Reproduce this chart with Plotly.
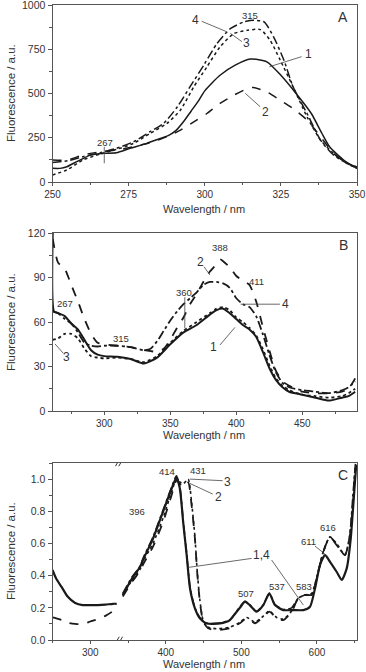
import plotly.graph_objects as go

W, H = 366, 672

# ---------------- Panel A data ----------------
a1_x = [250, 252.5, 254.7, 258, 262.4, 266.8, 271, 275.5, 281, 285.4, 288, 290.5, 293, 295.5, 298, 300, 305, 310, 315, 320.4, 325, 330, 335, 338.5, 341, 345.6, 350]
a1_y = [77, 77, 86, 115, 152, 162, 165, 190, 218, 246, 262, 290, 340, 400, 460, 515, 603, 660, 695, 679, 603, 500, 387, 274, 199, 124, 77]
a2_x = [250, 254.7, 260, 265.7, 271, 276.6, 282, 287.6, 292, 296.4, 300.7, 305, 309.5, 314, 316, 320.4, 324.8, 329, 333.6, 338, 342.3, 346.7, 350]
a2_y = [124, 124, 152, 171, 180, 199, 222, 256, 293, 340, 387, 444, 490, 528, 534, 509, 462, 415, 350, 256, 162, 105, 86]
a3_x = [250, 254.7, 260, 265.7, 271, 276.6, 282, 287.6, 292, 296.4, 300.7, 305, 309.5, 314, 318.3, 321.5, 324.8, 329, 333.6, 338, 342.3, 346.7, 350]
a3_y = [40, 68, 124, 158, 184, 218, 274, 331, 406, 538, 650, 763, 838, 857, 861, 800, 688, 538, 368, 237, 162, 105, 77]
a4_x = [250, 255, 260, 265.7, 271, 276.6, 282, 286.5, 291, 295.5, 300, 304, 308.4, 312.8, 316, 319.5, 322.6, 326, 329, 333.6, 338, 342.3, 346.7, 350]
a4_y = [110, 120, 143, 165, 190, 227, 284, 331, 425, 547, 669, 782, 866, 904, 914, 904, 820, 688, 538, 387, 237, 152, 105, 77]

# ---------------- Panel B data ----------------
b1_x = [261, 262, 265, 270, 275, 280, 285, 290, 295, 300, 310, 320, 330, 340, 350, 360, 370, 380, 385, 390, 395, 400, 405, 410, 415, 420, 425, 430, 435, 440, 450, 460, 470, 480, 485, 490]
b1_y = [120, 67, 66, 64, 59, 55, 48, 41, 38, 37, 36.6, 35, 32, 36, 45, 53, 58, 65, 68, 69, 66, 62, 58, 55, 50, 40, 29, 21, 16, 13, 11, 9, 7, 9, 10, 13]
b2_x = [261, 265, 270, 275, 280, 285, 290, 295, 300, 310, 320, 330, 340, 345, 350, 355, 360, 365, 370, 375, 380, 385, 388, 390, 395, 400, 405, 410, 415, 420, 425, 430, 435, 440, 450, 460, 470, 480, 485, 490]
b2_y = [116, 100, 96, 85, 74, 62, 52, 46, 45, 44, 43, 41, 40, 42, 48, 56, 63, 72, 79, 87, 94, 99, 102, 101, 97, 91, 88, 85, 74, 57, 41, 27, 20, 17, 13, 12, 12, 13, 15, 22]
b3_x = [261, 265, 270, 275, 280, 285, 290, 295, 300, 310, 320, 330, 340, 350, 360, 370, 380, 385, 390, 395, 400, 405, 410, 415, 420, 425, 430, 435, 440, 450, 460, 470, 480, 485, 490]
b3_y = [48, 49, 52, 52, 49, 42, 37, 36, 35.5, 36, 35, 33, 37, 46, 54, 60, 66, 69, 70, 68, 63, 60, 56, 51, 42, 31, 22, 17, 14, 11, 10, 9, 10, 12, 15]
b4_x = [261, 265, 270, 275, 280, 285, 290, 295, 300, 310, 320, 330, 335, 340, 345, 350, 355, 360, 365, 370, 375, 380, 385, 390, 395, 400, 405, 410, 415, 420, 425, 430, 435, 440, 450, 460, 470, 480, 485, 490]
b4_y = [67, 66, 62, 59, 53, 46, 44, 43.5, 44, 44, 43, 41, 42, 47, 54, 61, 67, 72, 76, 80, 85, 87, 87, 86, 83, 76, 72, 70, 64, 52, 38, 26, 19, 16, 14, 13, 12, 14, 16, 20]

# ---------------- Panel C data (broken axis: two segments) ----------------
c_left_x = [250, 255, 262, 270, 280, 290, 300, 310, 320, 330, 335]
c1_left_y = [0.435, 0.38, 0.33, 0.27, 0.23, 0.217, 0.217, 0.217, 0.22, 0.225, 0.225]
c2_left_y = [0.14, 0.135, 0.125, 0.107, 0.10, 0.098, 0.115, 0.13, 0.15, 0.18, 0.21]

c1_x = [343, 355, 366, 370, 383, 396.5, 407.6, 414, 418.6, 423, 427.5, 432, 438.5, 445, 454, 471.6, 484.8, 493.7, 498, 504.7, 511, 520, 529, 537, 544.4, 555.5, 568.7, 582, 590.8, 597.4, 604, 610.7, 617.3, 626, 632.8, 639.4, 644.7, 649, 652]
c1_y = [0.28, 0.38, 0.455, 0.50, 0.63, 0.80, 0.94, 1.01, 0.94, 0.73, 0.53, 0.32, 0.197, 0.135, 0.103, 0.103, 0.124, 0.176, 0.2, 0.238, 0.217, 0.176, 0.217, 0.29, 0.217, 0.186, 0.186, 0.186, 0.207, 0.32, 0.466, 0.528, 0.486, 0.424, 0.373, 0.445, 0.63, 0.9, 1.09]
c2_x = [343, 355, 366, 370, 383, 396.5, 407.6, 414, 419, 423, 429.6, 434, 438.5, 441.5, 445, 449.5, 456, 467, 484.8, 498, 507, 518, 527, 537, 546.7, 555.5, 566.5, 575.3, 584, 593, 599.7, 608.4, 617.3, 626, 637, 643, 647.6, 650.6]
c2_y = [0.27, 0.36, 0.43, 0.47, 0.58, 0.735, 0.90, 0.99, 0.97, 0.95, 0.98, 0.84, 0.63, 0.42, 0.24, 0.114, 0.073, 0.062, 0.073, 0.104, 0.135, 0.104, 0.135, 0.176, 0.135, 0.124, 0.176, 0.26, 0.28, 0.28, 0.383, 0.548, 0.642, 0.59, 0.528, 0.63, 0.84, 1.07]
c3_x = [343, 355, 366, 370, 383, 396.5, 407.6, 414, 419, 423, 429.6, 434, 438.5, 441.5, 445, 449.5, 456, 467, 484.8, 498, 507, 518, 527, 537, 546.7, 555.5, 566.5, 575.3, 584, 593, 599.7, 608.4, 617.3, 626, 637, 643, 647.6, 650.6]
c3_y = [0.28, 0.37, 0.44, 0.49, 0.60, 0.76, 0.92, 1.0, 0.98, 0.97, 1.0, 0.86, 0.64, 0.43, 0.25, 0.12, 0.08, 0.07, 0.08, 0.11, 0.14, 0.11, 0.14, 0.18, 0.14, 0.13, 0.18, 0.26, 0.28, 0.29, 0.39, 0.55, 0.64, 0.6, 0.53, 0.64, 0.86, 1.08]
c4_x = [343, 355, 366, 370, 383, 396.5, 407.6, 414, 418.6, 423, 427.5, 432, 438.5, 445, 454, 471.6, 484.8, 493.7, 504.7, 511, 520, 529, 537, 544.4, 555.5, 566.5, 575.3, 584, 593, 599.7, 608.4, 617.3, 626, 637, 643, 647.6, 651]
c4_y = [0.29, 0.39, 0.46, 0.51, 0.64, 0.81, 0.95, 1.02, 0.95, 0.74, 0.54, 0.33, 0.2, 0.14, 0.105, 0.105, 0.126, 0.178, 0.24, 0.22, 0.178, 0.22, 0.29, 0.22, 0.19, 0.2, 0.26, 0.28, 0.28, 0.383, 0.548, 0.642, 0.59, 0.528, 0.63, 0.9, 1.1]

INK = "#1a1a1a"
GRAY = "#555555"
FONT = "Liberation Sans, Arial, sans-serif"

fig = go.Figure()


def add(x, y, dash, xa, ya, width=1.5):
    fig.add_trace(go.Scatter(x=x, y=y, mode="lines", xaxis=xa, yaxis=ya,
                             line=dict(color=INK, width=width, dash=dash, shape="spline", smoothing=0.6),
                             showlegend=False, hoverinfo="skip"))


# Panel A
add(a1_x, a1_y, "solid", "x", "y")
add(a2_x, a2_y, "dash", "x", "y")
add(a3_x, a3_y, "dot", "x", "y")
add(a4_x, a4_y, "dashdot", "x", "y")
# Panel B
add(b1_x, b1_y, "solid", "x2", "y2", 2)
add(b2_x, b2_y, "dash", "x2", "y2", 1.8)
add(b3_x, b3_y, "dot", "x2", "y2", 1.8)
add(b4_x, b4_y, "dashdot", "x2", "y2", 1.8)
# Panel C
add(c_left_x, c1_left_y, "solid", "x3", "y3", 2.2)
add(c_left_x, c2_left_y, "dash", "x3", "y3", 1.8)
add(c1_x, c1_y, "solid", "x3", "y3", 2.2)
add(c4_x, c4_y, "dashdot", "x3", "y3", 1.6)
add(c3_x, c3_y, "dot", "x3", "y3", 1.6)
add(c2_x, c2_y, "dash", "x3", "y3", 1.8)


def py(p):
    return 1 - p / H


def px(p):
    return p / W


xdom = [px(52.5), px(357)]
doms = {"A": [py(182), py(5)], "B": [py(411), py(233)], "C": [py(640), py(463)]}

tickfont = dict(family=FONT, size=10, color="#333333")


def xaxis(rng, dtick, minor, anchor, tick0=None):
    d = dict(domain=xdom, range=rng, anchor=anchor, showgrid=False, zeroline=False,
             showline=True, linecolor=GRAY, linewidth=1, mirror=True,
             ticks="outside", ticklen=3, tickcolor=GRAY, dtick=dtick, tickfont=tickfont,
             ticklabeloverflow="allow",
             minor=dict(ticks="outside", ticklen=2, dtick=minor, tickcolor=GRAY, showgrid=False),
             automargin=False, fixedrange=True)
    if tick0 is not None:
        d["tick0"] = tick0
        d["minor"]["tick0"] = tick0
    return d


def yaxis(dom, rng, dtick, minor, anchor, fmt=None):
    d = dict(domain=dom, range=rng, anchor=anchor, showgrid=False, zeroline=False,
             showline=True, linecolor=GRAY, linewidth=1, mirror=True,
             ticks="outside", ticklen=4, tickcolor=GRAY, dtick=dtick, tick0=0,
             tickfont=dict(family=FONT, size=10.5, color="#333333"),
             ticklabeloverflow="allow",
             minor=dict(ticks="outside", ticklen=2.5, dtick=minor, tick0=0, tickcolor=GRAY, showgrid=False),
             automargin=False, fixedrange=True)
    if fmt:
        d["tickformat"] = fmt
    return d


fig.update_layout(
    width=W, height=H, margin=dict(l=0, r=0, t=0, b=0),
    paper_bgcolor="white", plot_bgcolor="white",
    font=dict(family=FONT, color="#333333"),
    xaxis=xaxis([250, 350], 25, 12.5, "y", 250),
    yaxis=yaxis(doms["A"], [0, 1000], 250, 125, "x"),
    xaxis2=xaxis([260.8, 491.4], 50, 25, "y2", 300),
    yaxis2=yaxis(doms["B"], [0, 120], 30, 15, "x2"),
    xaxis3=xaxis([250, 653], 100, 50, "y3", 300),
    yaxis3=yaxis(doms["C"], [0, 1.1], 0.2, 0.1, "x3", ".1f"),
)

ann = []


def label(text, x, y, xr, yr, size=10):
    ann.append(dict(text=text, x=x, y=y, xref=xr, yref=yr, showarrow=False,
                    font=dict(family=FONT, size=size, color="#333333"),
                    xanchor="center", yanchor="middle"))


shapes = []


def seg(x0, y0, x1, y1, xr, yr, w=0.8, color="#444444"):
    shapes.append(dict(type="line", x0=x0, y0=y0, x1=x1, y1=y1, xref=xr, yref=yr,
                       line=dict(color=color, width=w)))


# Axis titles
for key, yc_px, xt_px in [("A", 93, 208.5), ("B", 322, 434.5), ("C", 551, 664)]:
    ann.append(dict(text="Fluorescence / a.u.", x=px(11), y=py(yc_px), xref="paper", yref="paper",
                    showarrow=False, textangle=-90, font=dict(family=FONT, size=11.5, color="#333333"),
                    xanchor="center", yanchor="middle"))
    ann.append(dict(text="Wavelength / nm", x=px(204), y=py(xt_px), xref="paper", yref="paper",
                    showarrow=False, font=dict(family=FONT, size=11, color="#333333"),
                    xanchor="center", yanchor="middle"))

# Panel A labels
label("A", 345.5, 934, "x", "y", 14)
label("315", 315, 940, "x", "y", 9.5)
label("4", 296.9, 915, "x", "y", 12)
seg(299, 908, 307.2, 849, "x", "y")
label("3", 313.6, 783, "x", "y", 12)
seg(308.4, 840, 312.2, 793, "x", "y")
label("1", 334, 723, "x", "y", 12)
seg(331.8, 708, 321.2, 651, "x", "y")
label("2", 320, 397, "x", "y", 12)
seg(318.2, 425, 313.3, 501, "x", "y")
label("267", 267.1, 222, "x", "y", 9.5)
seg(267, 199, 267, 106, "x", "y")

# Panel B labels
label("B", 481, 112, "x2", "y2", 14)
label("388", 387.7, 110, "x2", "y2", 9.5)
label("411", 415.5, 87, "x2", "y2", 9.5)
label("2", 372.5, 100.7, "x2", "y2", 12)
seg(375.5, 97.3, 380, 91.7, "x2", "y2")
label("4", 436.9, 72, "x2", "y2", 12)
seg(433, 72, 403.3, 72, "x2", "y2")
label("360", 360.6, 79.8, "x2", "y2", 9.5)
seg(361, 76.7, 361, 55.8, "x2", "y2")
label("267", 270.2, 72.6, "x2", "y2", 9.5)
label("315", 312.4, 49, "x2", "y2", 9.5)
label("1", 382.6, 43.4, "x2", "y2", 12)
seg(387.6, 44.5, 399, 56.4, "x2", "y2")
label("3", 271.5, 36.6, "x2", "y2", 12)
seg(269, 38.9, 262.7, 45.2, "x2", "y2")

# Panel C labels
label("C", 634.9, 1.025, "x3", "y3", 14)
label("414", 401.8, 1.05, "x3", "y3", 9.5)
label("431", 442.9, 1.056, "x3", "y3", 9.5)
label("3", 481.8, 0.983, "x3", "y3", 12)
seg(475.2, 0.99, 431.9, 1.0, "x3", "y3")
label("2", 469.4, 0.89, "x3", "y3", 12)
seg(462, 0.907, 431.9, 0.973, "x3", "y3")
label("396", 361.2, 0.80, "x3", "y3", 9.5)
label("1,4", 526.8, 0.528, "x3", "y3", 12)
seg(513.6, 0.507, 429.6, 0.451, "x3", "y3")
seg(540, 0.497, 582, 0.217, "x3", "y3")
label("507", 506, 0.29, "x3", "y3", 9.5)
label("537", 546.7, 0.335, "x3", "y3", 9.5)
label("583", 582.9, 0.335, "x3", "y3", 9.5)
label("611", 588.6, 0.61, "x3", "y3", 9.5)
seg(597.4, 0.584, 615, 0.517, "x3", "y3")
label("616", 615, 0.70, "x3", "y3", 9.5)

# Broken-axis marks on panel C at ~338 nm
brk = 338
for yv in (0.0, 1.1):
    shapes.append(dict(type="rect", x0=brk - 3, x1=brk + 3, y0=yv - 0.012, y1=yv + 0.012,
                       xref="x3", yref="y3", fillcolor="white", line=dict(width=0), layer="above"))
    for off in (-2.2, 2.2):
        seg(brk + off - 2.5, yv - 0.02, brk + off + 2.5, yv + 0.02, "x3", "y3", w=1, color="#333333")

fig.update_layout(annotations=ann, shapes=shapes)
fig.write_html("out.html", config={"displayModeBar": False},
               post_script="document.body.style.margin='0';document.body.style.overflow='hidden';")
